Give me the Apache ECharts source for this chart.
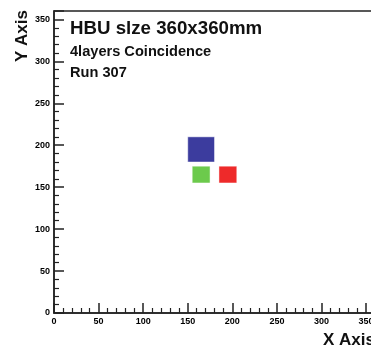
<!DOCTYPE html>
<html>
<head>
<meta charset="utf-8">
<title>HBU size 360x360mm</title>
<script src="https://cdn.jsdelivr.net/npm/echarts@6/dist/echarts.min.js"></script>
<style>
  html, body { margin: 0; padding: 0; background: #fff; }
  #chart { width: 371px; height: 348px; }
</style>
</head>
<body>
<div id="chart"></div>
<script>
// 2D histogram bins (30mm wide), box size scales with the count
const binX = [165, 165, 195];
const binY = [195, 165, 165];
const counts = [3, 2, 2];
const cellColors = ['#3c3c9e', '#6cca4c', '#ee2a2a'];
const binWidth = 30;
const axisMax = 360;

const titleLines = ['HBU slze 360x360mm', '4layers Coincidence', 'Run 307'];

const maxCount = Math.max(...counts);
const cells = binX.map((x, i) => [x, binY[i], counts[i], i]);

const font = 'Liberation Sans, Arial, Helvetica, sans-serif';

let myChart = echarts.init(document.getElementById('chart'));
myChart.setOption({
  animation: false,
  backgroundColor: '#fff',
  grid: {
    left: 54, top: 11, right: -4, bottom: 35,
    outerBoundsMode: 'none', containLabel: false,
    show: true, borderColor: '#222', borderWidth: 1.5, backgroundColor: 'transparent'
  },
  xAxis: {
    type: 'value', min: 0, max: axisMax, interval: 50,
    axisLine: { onZero: false, lineStyle: { color: '#222', width: 1.5 } },
    axisTick: { inside: true, length: 10, lineStyle: { color: '#222', width: 1.5 } },
    minorTick: { show: true, splitNumber: 5, length: 5, lineStyle: { color: '#222', width: 1.2 } },
    splitLine: { show: false },
    axisLabel: {
      showMaxLabel: false, margin: 4,
      color: '#000', fontFamily: font, fontWeight: 'bold', fontSize: 9
    }
  },
  yAxis: {
    type: 'value', min: 0, max: axisMax, interval: 50,
    axisLine: { onZero: false, lineStyle: { color: '#222', width: 1.5 } },
    axisTick: { inside: true, length: 10, lineStyle: { color: '#222', width: 1.5 } },
    minorTick: { show: true, splitNumber: 5, length: 5, lineStyle: { color: '#222', width: 1.2 } },
    splitLine: { show: false },
    axisLabel: {
      showMaxLabel: false, margin: 4,
      color: '#000', fontFamily: font, fontWeight: 'bold', fontSize: 9
    }
  },
  graphic: [
    {
      type: 'text', left: 70, top: 19,
      style: { text: titleLines[0], fill: '#111', font: 'bold 18.7px ' + font }
    },
    {
      type: 'text', left: 70, top: 44,
      style: { text: titleLines[1], fill: '#111', font: 'bold 14.6px ' + font }
    },
    {
      type: 'text', left: 70, top: 65,
      style: { text: titleLines[2], fill: '#111', font: 'bold 14.6px ' + font }
    },
    {
      type: 'text', x: 14, y: 10, rotation: Math.PI / 2,
      style: { text: 'Y Axis', fill: '#111', font: 'bold 17px ' + font, align: 'right', verticalAlign: 'top' }
    },
    {
      type: 'text', x: 375, y: 332,
      style: { text: 'X Axis', fill: '#111', font: 'bold 17px ' + font, align: 'right', verticalAlign: 'top' }
    }
  ],
  series: [{
    type: 'custom',
    data: cells,
    renderItem: function (params, api) {
      const c = api.coord([api.value(0), api.value(1)]);
      const side = binWidth * api.value(2) / maxCount;
      const s = api.size([side, side]);
      const idx = api.value(3);
      return {
        type: 'rect',
        shape: { x: c[0] - s[0] / 2, y: c[1] - s[1] / 2, width: s[0], height: s[1] },
        style: { fill: cellColors[idx], stroke: 'rgba(255,255,255,0.45)', lineWidth: 1 }
      };
    }
  }]
});
window.addEventListener('resize', function () { myChart.resize(); });
</script>
</body>
</html>
